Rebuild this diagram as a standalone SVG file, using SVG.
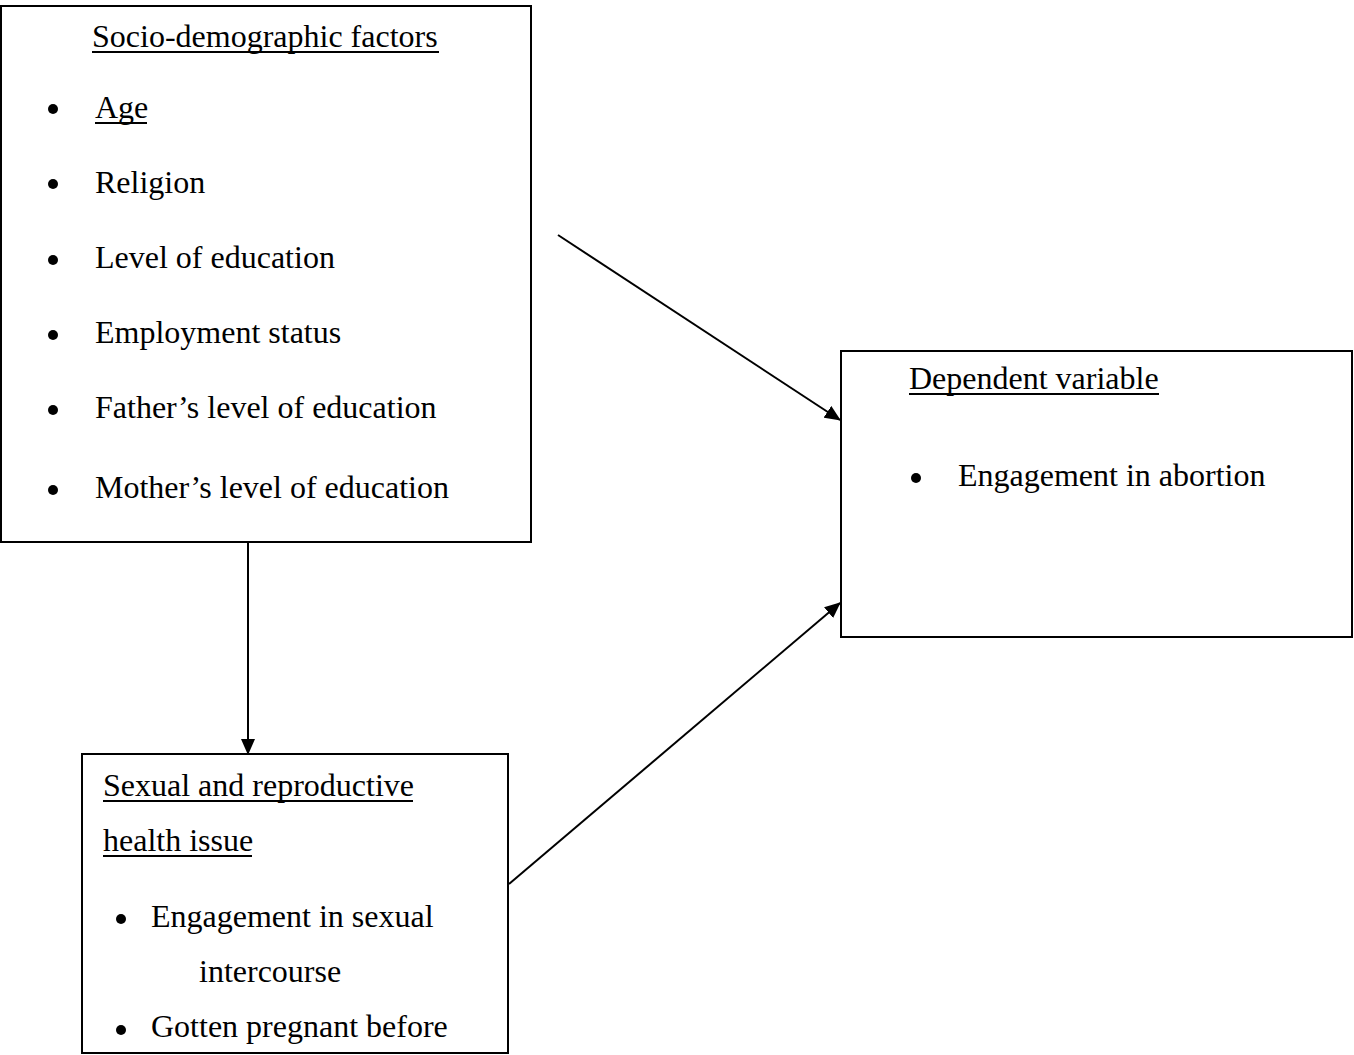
<svg xmlns="http://www.w3.org/2000/svg" width="1354" height="1055" viewBox="0 0 1354 1055">
<style>
.box{fill:#fff;stroke:#000;stroke-width:2}
text{font-family:"Liberation Serif","Times New Roman",serif;font-size:32px;fill:#000}
.ul{stroke:#000;stroke-width:2}
.conn{stroke:#000;stroke-width:2;fill:none}
</style>
<defs>
<marker id="ah" markerWidth="16" markerHeight="14" refX="15" refY="7" orient="auto" markerUnits="userSpaceOnUse">
<path d="M0,0 L16,7 L0,14 Z" fill="#000"/>
</marker>
</defs>
<rect width="1354" height="1055" fill="#fff"/>
<g id="socio">
<rect class="box" x="1" y="6" width="530" height="536"/>
<text x="92" y="47">Socio-demographic factors</text>
<line class="ul" x1="92" y1="52" x2="439" y2="52"/>
<circle cx="53" cy="109" r="5"/><text x="95" y="118">Age</text>
<line class="ul" x1="95" y1="123" x2="147" y2="123"/>
<circle cx="53" cy="184" r="5"/><text x="95" y="193">Religion</text>
<circle cx="53" cy="260" r="5"/><text x="95" y="268">Level of education</text>
<circle cx="53" cy="335" r="5"/><text x="95" y="343">Employment status</text>
<circle cx="53" cy="410" r="5"/><text x="95" y="418">Father’s level of education</text>
<circle cx="53" cy="490" r="5"/><text x="95" y="498">Mother’s level of education</text>
</g>
<g id="dependent">
<rect class="box" x="841" y="351" width="511" height="286"/>
<text x="909" y="389">Dependent variable</text>
<line class="ul" x1="909" y1="394" x2="1159" y2="394"/>
<circle cx="916" cy="478" r="5"/><text x="958" y="486">Engagement in abortion</text>
</g>
<g id="sexual">
<rect class="box" x="82" y="754" width="426" height="299"/>
<text x="103" y="796">Sexual and reproductive</text>
<line class="ul" x1="103" y1="801" x2="413" y2="801"/>
<text x="103" y="851">health issue</text>
<line class="ul" x1="103" y1="856" x2="252" y2="856"/>
<circle cx="121" cy="919" r="5"/><text x="151" y="927">Engagement in sexual</text>
<text x="199" y="982">intercourse</text>
<circle cx="121" cy="1030" r="5"/><text x="151" y="1037">Gotten pregnant before</text>
</g>
<g id="connectors">
<line class="conn" x1="558" y1="235" x2="840" y2="420" marker-end="url(#ah)"/>
<line class="conn" x1="248" y1="542" x2="248" y2="754" marker-end="url(#ah)"/>
<line class="conn" x1="509" y1="884" x2="840" y2="603" marker-end="url(#ah)"/>
</g>
</svg>
